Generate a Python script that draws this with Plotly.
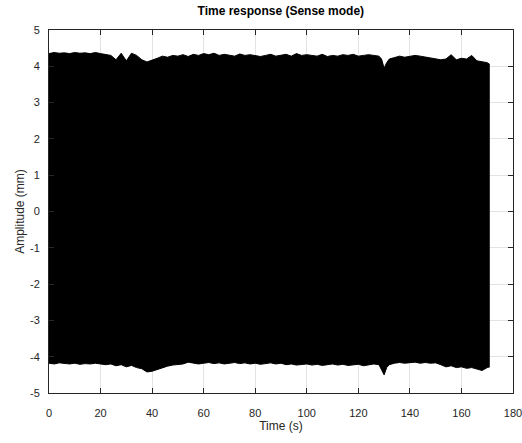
import plotly.graph_objects as go

# Envelope of the dense oscillation (time in s, amplitude in mm)
time_s = [0, 2, 4, 6, 8, 10, 12, 14, 16, 18, 20, 22, 24, 26, 28, 30, 32, 34, 36, 38,
          40, 42, 44, 46, 48, 50, 52, 54, 56, 58, 60, 62, 64, 66, 68, 70, 72, 74, 76, 78,
          80, 82, 84, 86, 88, 90, 92, 94, 96, 98, 100, 102, 104, 106, 108, 110, 112, 114,
          116, 118, 120, 122, 124, 126, 128, 129, 130, 131, 132, 134, 136, 138, 140, 142,
          144, 146, 148, 150, 152, 154, 156, 158, 160, 162, 164, 166, 168, 170, 171]
upper_mm = [4.35, 4.38, 4.36, 4.37, 4.35, 4.38, 4.36, 4.37, 4.35, 4.38, 4.35, 4.33, 4.30,
            4.18, 4.36, 4.15, 4.36, 4.30, 4.18, 4.12, 4.16, 4.22, 4.28, 4.25, 4.30, 4.28,
            4.32, 4.27, 4.33, 4.30, 4.35, 4.32, 4.36, 4.30, 4.33, 4.30, 4.28, 4.34, 4.30,
            4.32, 4.30, 4.27, 4.30, 4.33, 4.28, 4.30, 4.33, 4.28, 4.35, 4.30, 4.32, 4.30,
            4.28, 4.33, 4.27, 4.30, 4.28, 4.32, 4.30, 4.33, 4.28, 4.30, 4.32, 4.30, 4.28,
            4.20, 3.95, 4.10, 4.20, 4.24, 4.28, 4.25, 4.28, 4.30, 4.28, 4.25, 4.22, 4.20,
            4.18, 4.20, 4.32, 4.18, 4.22, 4.20, 4.30, 4.15, 4.12, 4.10, 4.05]
lower_mm = [-4.18, -4.20, -4.17, -4.19, -4.20, -4.18, -4.21, -4.19, -4.20, -4.18, -4.20,
            -4.22, -4.20, -4.25, -4.22, -4.28, -4.24, -4.30, -4.33, -4.42, -4.40, -4.35,
            -4.30, -4.26, -4.23, -4.22, -4.20, -4.15, -4.18, -4.20, -4.18, -4.16, -4.19,
            -4.17, -4.20, -4.18, -4.16, -4.19, -4.17, -4.20, -4.18, -4.21, -4.19, -4.17,
            -4.20, -4.18, -4.22, -4.20, -4.23, -4.21, -4.20, -4.23, -4.21, -4.24, -4.22,
            -4.20, -4.23, -4.21, -4.24, -4.22, -4.21, -4.25, -4.22, -4.20, -4.22, -4.35,
            -4.50, -4.30, -4.22, -4.18, -4.16, -4.18, -4.17, -4.15, -4.18, -4.16, -4.18,
            -4.17, -4.22, -4.28, -4.25, -4.30, -4.28, -4.32, -4.30, -4.35, -4.38, -4.30,
            -4.28]

x_ticks = [0, 20, 40, 60, 80, 100, 120, 140, 160, 180]
y_ticks = [-5, -4, -3, -2, -1, 0, 1, 2, 3, 4, 5]
y_tick_labels = ["-5", "-4", "-3", "-2", "-1", "0", "1", "2", "3", "4", "5"]

FONT = "Liberation Sans, Arial"

fig = go.Figure()
fig.add_trace(go.Scatter(x=time_s, y=lower_mm, mode="lines",
                         line=dict(color="black", width=1), showlegend=False))
fig.add_trace(go.Scatter(x=time_s, y=upper_mm, mode="lines", fill="tonexty",
                         fillcolor="black", line=dict(color="black", width=1),
                         showlegend=False))

axis_common = dict(
    showline=True, linecolor="#262626", linewidth=1, mirror="allticks",
    ticks="inside", ticklen=5, tickcolor="#262626", automargin=False,
    showgrid=True, gridcolor="#e3e3e3", gridwidth=1, zeroline=False,
    ticklabeloverflow="allow",
    tickfont=dict(family=FONT, size=11, color="#262626"),
)

fig.update_layout(
    width=522, height=443,
    margin=dict(l=49, r=9, t=30, b=50),
    paper_bgcolor="white", plot_bgcolor="white",
    title=dict(text="<b>Time response (Sense mode)</b>", x=0.538, xanchor="center",
               y=0.985, yanchor="top",
               font=dict(family=FONT, size=12, color="black")),
    xaxis=dict(range=[0, 180], tickvals=x_ticks, ticklabelstandoff=10,
               title=dict(text="Time (s)", standoff=3,
                          font=dict(family=FONT, size=12, color="#262626")),
               **axis_common),
    yaxis=dict(range=[-5, 5], tickvals=y_ticks, ticktext=y_tick_labels,
               ticklabelstandoff=6,
               title=dict(text="Amplitude (mm)", standoff=2,
                          font=dict(family=FONT, size=12, color="#262626")),
               **axis_common),
)

fig.write_html(
    "out.html",
    config={"displayModeBar": False},
    post_script="document.body.style.margin='0';document.body.style.overflow='hidden';",
)
